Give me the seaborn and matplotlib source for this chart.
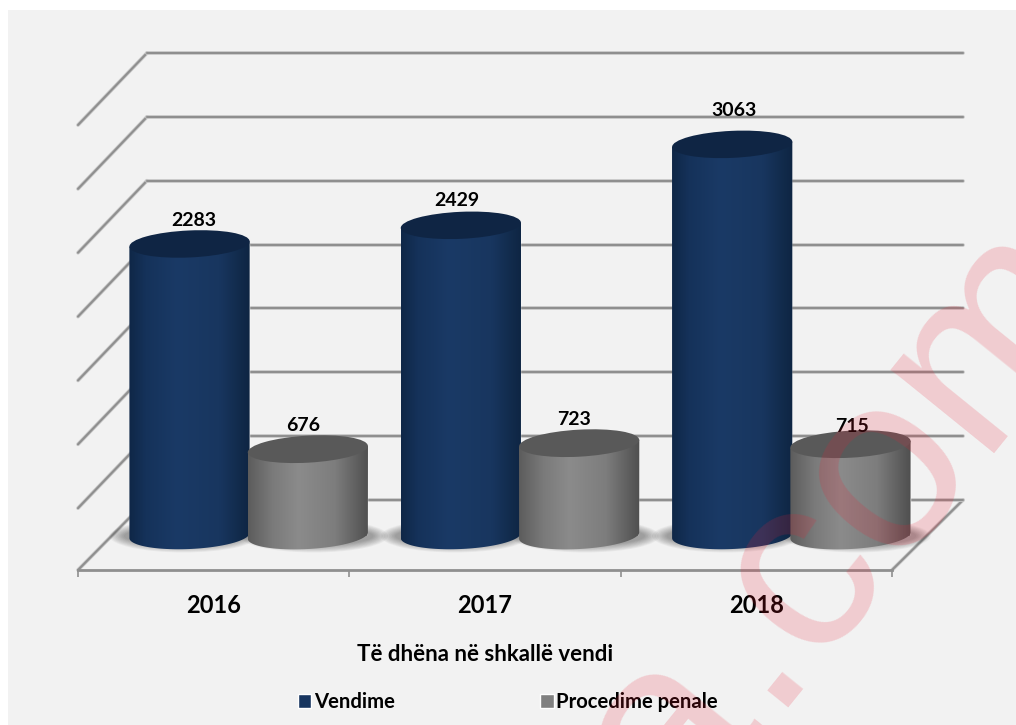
import numpy as np
import pandas as pd
import seaborn as sns
import matplotlib.pyplot as plt
from matplotlib.colors import LinearSegmentedColormap
from matplotlib.patches import Ellipse, PathPatch, Rectangle
from matplotlib.path import Path

# Data
years = ['2016', '2017', '2018']
vendime = [2283, 2429, 3063]
procedime = [676, 723, 715]
series_names = ['Vendime', 'Procedime penale']
wall_ticks = [0, 500, 1000, 1500, 2000, 2500, 3000, 3500]

W, H = 1016, 725
BLUE, GREY = '#17355f', '#808080'
LINE = '#8f8f8f'

df = pd.DataFrame({
    'year': years * 2,
    'count': vendime + procedime,
    'series': [series_names[0]] * 3 + [series_names[1]] * 3,
})

sns.set_theme(style='white')
plt.rcParams['font.family'] = ['Lato', 'DejaVu Sans']
plt.rcParams['font.weight'] = 'bold'
plt.rcParams['text.color'] = 'black'

fig = plt.figure(figsize=(W / 100, H / 100), dpi=100, facecolor='white')


def axes_px(x0, y0, x1, y1, **kw):
    # axes placed by picture pixels, y counted from the top
    return fig.add_axes([x0 / W, 1 - y1 / H, (x1 - x0) / W, (y1 - y0) / H], **kw)


def soft_line(a, xs, ys, **kw):
    a.plot(xs, ys, color='#c9c9c9', lw=2.7, solid_capstyle='round', **kw)
    a.plot(xs, ys, color=LINE, lw=1.5, solid_capstyle='round', **kw)


# background panel and slanted wall / floor lines
back = axes_px(0, 0, W, H, zorder=0)
back.set_xlim(0, W)
back.set_ylim(H, 0)
back.axis('off')
back.add_patch(Rectangle((8, 10), W - 8, H - 10, color='#f2f2f2', lw=0))

# back wall with the gridlines
wall = axes_px(147, 53, 963, 500, zorder=1)
wall.set_ylim(0, 3500)
wall.set_xlim(0, 1)
wall.patch.set_visible(False)
wall.set_yticks(wall_ticks)
wall.set_xticks([])
wall.tick_params(left=False, labelleft=False)
for y in wall_ticks:
    soft_line(wall, [0, 1], [y, y], clip_on=False)
sns.despine(ax=wall, left=True, bottom=True)

for y in np.linspace(53, 500, 8)[:-1]:
    soft_line(back, [78, 147], [y + 72, y])
soft_line(back, [78, 147], [570, 500])
soft_line(back, [892, 963], [570, 500])

# front edge of the floor with category ticks
floor = axes_px(78, 500, 892, 570, zorder=1)
floor.patch.set_visible(False)
floor.set_xlim(-0.5, 2.5)
floor.set_ylim(0, 1)
floor.set_yticks([])
floor.set_xticks([-0.5, 0.5, 1.5, 2.5])
floor.set_xticklabels([])
floor.set_xticks([0, 1, 2], labels=years, minor=True)
floor.tick_params(axis='x', which='major', length=5, width=1.2, color=LINE, bottom=True)
floor.tick_params(axis='x', which='minor', length=0, pad=17, labelsize=17, labelcolor='black')
floor.set_xlabel('Të dhëna në shkallë vendi', fontsize=16, fontweight='bold', labelpad=19.5, color='black')
sns.despine(ax=floor, left=True, top=True, right=True)
floor.spines['bottom'].set_color(LINE)
floor.spines['bottom'].set_linewidth(2)

# bars
ax = axes_px(113, 53, 927, 535.5, zorder=2)
sns.barplot(data=df, x='year', y='count', hue='series', hue_order=series_names,
            palette=[BLUE, GREY], width=0.872, saturation=1, ax=ax)
ax.set_ylim(0, 482.5 / 0.1277)
ax.set_xlim(-0.5, 2.5)
ax.patch.set_visible(False)
ax.set_xlabel('')
ax.set_ylabel('')
ax.set_xticks([])
ax.set_yticks([])
sns.despine(ax=ax, left=True, bottom=True)
sns.move_legend(ax, 'center left', bbox_to_anchor=(298 / W, 1 - 702 / H),
                bbox_transform=fig.transFigure, ncol=2, frameon=False, title=None,
                fontsize=14.6, handlelength=0.65, handleheight=0.65, handletextpad=0.12,
                columnspacing=7.2, borderpad=0, borderaxespad=0, labelcolor='black')

# cylinders drawn over the bars, sizes taken from the bar patches
top = axes_px(0, 0, W, H, zorder=3)
top.axis('off')
top.set_xlim(0, W)
top.set_ylim(H, 0)

blue_cmap = LinearSegmentedColormap.from_list('b', [(0, '#0f2747'), (0.14, '#15325a'), (0.4, '#1a3a66'),
                                                    (0.75, '#18365f'), (1, '#0e2542')])
grey_cmap = LinearSegmentedColormap.from_list('g', [(0, '#5c5c5c'), (0.2, '#7a7a7a'), (0.42, '#8b8b8b'),
                                                    (0.72, '#7d7d7d'), (1, '#4f4f4f')])
ramp = np.linspace(0, 1, 256)[None, :]
to_px = ax.transData + top.transData.inverted()
zo = 10

bars_by_series = [ax.containers[0], ax.containers[1]]
for j, (cont, cmap, cap) in enumerate(zip(bars_by_series, [blue_cmap, grey_cmap], ['#0f2544', '#595959'])):
    for bar in cont:
        (x0, y_top), (x1, y_base) = to_px.transform([(bar.get_x(), bar.get_height()),
                                                     (bar.get_x() + bar.get_width(), 0)])
        cx, a, b = (x0 + x1) / 2, (x1 - x0) / 2 + 1, 13.5
        tilt = -2.6 if j == 0 else -3.2
        t = np.radians(tilt)

        # floor shadow
        sx = cx - 6 if j == 0 else cx + 6
        for k in range(10):
            top.add_patch(Ellipse((sx, y_base + 0.5), 2 * (a + 14 - 1.6 * k), 2 * (b + 3 - 0.8 * k),
                                  color='black', alpha=0.04, lw=0, zorder=5))

        # outline: top edge straight across, bottom half ellipse
        th = np.linspace(0, np.pi, 60)
        low_x = cx + a * np.cos(th) * np.cos(t) - b * np.sin(th) * np.sin(t)
        low_y = y_base + a * np.cos(th) * np.sin(t) + b * np.sin(th) * np.cos(t)
        verts = np.column_stack([low_x, low_y])
        verts = np.vstack([verts, [cx - a, y_top - a * np.sin(t)], [cx + a, y_top + a * np.sin(t)], verts[:1]])
        outline = PathPatch(Path(verts), transform=top.transData, fc='none', lw=0)
        top.add_patch(outline)
        zo += 1
        im = top.imshow(ramp, cmap=cmap, extent=(cx - a, cx + a, y_base + b + 3, y_top - 8),
                        aspect='auto', zorder=zo)
        im.set_clip_path(outline)
        zo += 1
        top.add_patch(Ellipse((cx, y_top), 2 * a, 2 * b, angle=tilt, color=cap, lw=0, zorder=zo))
top.set_xlim(0, W)
top.set_ylim(H, 0)

# value labels, nudged like the original (pixels from the bar top centre)
label_dx = [4, -5, -4, -5, 2, 2]
label_dy = [25, 26, 27, 26, 36, 20]
for c, (cont, vals) in enumerate(zip(bars_by_series, [vendime, procedime])):
    for i, (bar, v) in enumerate(zip(cont, vals)):
        k = i * 2 + c
        tip = to_px.transform((bar.get_x() + bar.get_width() / 2, bar.get_height()))
        top.annotate(str(v), tip, xytext=(label_dx[k] * 0.72, (label_dy[k] - 2) * 0.72),
                     textcoords='offset points', ha='center', va='center',
                     fontsize=14, fontweight='bold', color='black', zorder=200)

# site watermark across the picture
mark = dict(rotation=51, rotation_mode='anchor', ha='left', va='baseline', fontsize=180,
            family='Liberation Sans', fontweight='normal', color=(0.92, 0.12, 0.2),
            alpha=0.18, zorder=300, clip_on=True)
top.text(675, 828, 'a', **mark)
top.text(766, 708, '.com', **mark)

fig.savefig('out.png', dpi=100)
